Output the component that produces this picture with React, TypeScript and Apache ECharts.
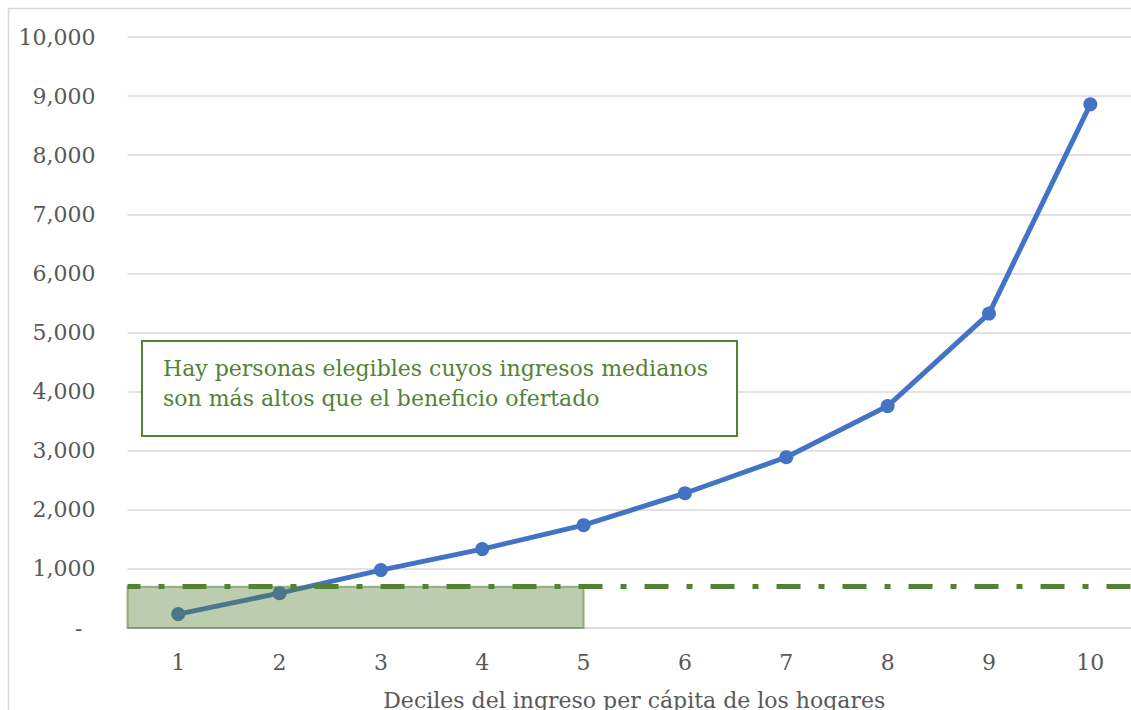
import React, { useEffect, useRef } from "react";
import * as echarts from "echarts";

const deciles = ["1", "2", "3", "4", "5", "6", "7", "8", "9", "10"];
const medianIncome = [235, 590, 980, 1335, 1740, 2280, 2890, 3755, 5320, 8860];
const benefit = 700;
const eligibleUpToDecile = 5;
const yMin = 0;
const yMax = 10000;
const yInterval = 1000;
const xTitle = "Deciles del ingreso per cápita de los hogares";
const noteLines = [
  "Hay personas elegibles cuyos ingresos medianos",
  "son más altos que el beneficio ofertado",
];

const FONT = "'DejaVu Serif', serif";
const GREEN = "#548235";
const GREY = "#595959";

export default function App() {
  const ref = useRef<HTMLDivElement>(null);
  useEffect(() => {
    if (!ref.current) return;
    const chart = echarts.init(ref.current, undefined, { renderer: "svg" });
    chart.setOption({
      animation: false,
      backgroundColor: "#ffffff",
      grid: { left: 127.5, top: 37, right: 19, bottom: 102, containLabel: false },
      xAxis: [
        {
          type: "category",
          data: deciles,
          boundaryGap: true,
          axisLine: { show: true, lineStyle: { color: "#d9d9d9", width: 1.5 } },
          axisTick: { show: false },
          axisLabel: { margin: 23, fontSize: 22, color: GREY, fontFamily: FONT },
          name: xTitle,
          nameLocation: "middle",
          nameGap: 61,
          nameTextStyle: { fontSize: 22, color: GREY, fontFamily: FONT },
        },
        { type: "value", min: 0.5, max: deciles.length + 0.5, show: false },
      ],
      yAxis: {
        type: "value",
        min: yMin,
        max: yMax,
        interval: yInterval,
        axisLine: { show: false },
        axisTick: { show: false },
        splitLine: { lineStyle: { color: "#d9d9d9", width: 1.5 } },
        axisLabel: {
          margin: 32,
          fontSize: 22,
          color: GREY,
          fontFamily: FONT,
          formatter: (v: number) =>
            v === 0 ? "{d|-}" : v.toLocaleString("en-US"),
          rich: { d: { fontSize: 22, color: GREY, fontFamily: FONT, padding: [0, 13, 0, 0] } },
        },
      },
      series: [
        {
          type: "line",
          data: medianIncome,
          symbol: "circle",
          symbolSize: 14,
          lineStyle: { color: "#4472c4", width: 5 },
          itemStyle: { color: "#4472c4" },
          z: 2,
        },
        {
          type: "line",
          xAxisIndex: 1,
          data: [],
          z: 5,
          markArea: {
            silent: true,
            z: 10,
            itemStyle: {
              color: "rgba(84,130,53,0.4)",
              borderColor: "rgba(84,130,53,0.55)",
              borderWidth: 2,
            },
            data: [[{ coord: [0.5, yMin] }, { coord: [eligibleUpToDecile, benefit] }]],
          },
          markLine: {
            silent: true,
            symbol: "none",
            z: 11,
            label: { show: false },
            lineStyle: { color: GREEN, width: 5, type: [24, 18, 6, 18], dashOffset: 11 },
            data: [{ yAxis: benefit }],
          },
        },
      ],
      graphic: [
        {
          type: "rect",
          shape: { x: 8.5, y: 8.5, width: 1200, height: 800 },
          style: { fill: "none", stroke: "#d9d9d9", lineWidth: 1.5 },
          z: 0,
          silent: true,
        },
        {
          type: "rect",
          shape: { x: 142, y: 341, width: 595, height: 95 },
          style: { fill: "#ffffff", stroke: GREEN, lineWidth: 2 },
          z: 20,
        },
        {
          type: "text",
          x: 163,
          y: 368,
          z: 21,
          style: { text: noteLines[0], fill: GREEN, fontSize: 22, fontFamily: FONT, verticalAlign: "middle" },
        },
        {
          type: "text",
          x: 163,
          y: 398,
          z: 21,
          style: { text: noteLines[1], fill: GREEN, fontSize: 22, fontFamily: FONT, verticalAlign: "middle" },
        },
      ],
    });
    return () => chart.dispose();
  }, []);
  return (
    <div style={{ position: "fixed", left: 0, top: 0, width: 1131, height: 710, overflow: "hidden", background: "#fff" }}>
      <div ref={ref} style={{ width: 1160, height: 730 }} />
    </div>
  );
}
